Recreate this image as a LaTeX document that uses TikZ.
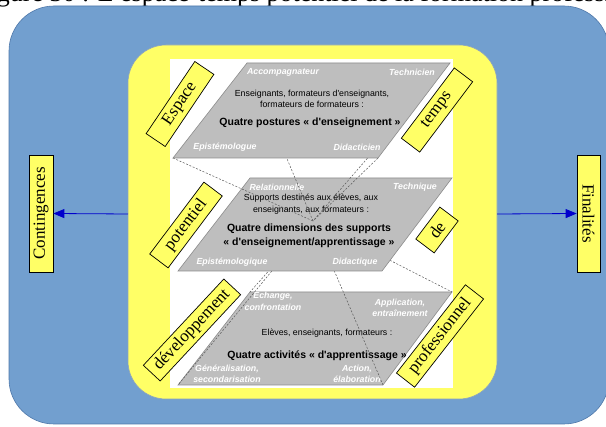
\documentclass[tikz,border=0pt]{standalone}
\usepackage{fontspec}
\setmainfont{Liberation Serif}
\newfontfamily\arialfont{Liberation Sans}
\usetikzlibrary{arrows.meta}
\definecolor{outerblue}{HTML}{729FCF}
\definecolor{outerline}{HTML}{4F78AA}
\definecolor{paleyellow}{HTML}{FFFF66}
\definecolor{yellowedge}{HTML}{8DA3BE}
\definecolor{planegray}{HTML}{BEBEBE}
\definecolor{planeedge}{HTML}{8C8C8C}
\definecolor{arrowblue}{HTML}{0000CC}

\begin{document}
\begin{tikzpicture}[x=1pt,y=-1pt,
  plane/.style={fill=planegray,draw=planeedge,line width=0.6pt},
  cornertxt/.style={font=\arialfont\bfseries\itshape\fontsize{8.8}{10.5}\selectfont,text=white,align=center,inner sep=0pt},
  plaintxt/.style={font=\arialfont\fontsize{8.8}{11}\selectfont,align=center,inner sep=0pt},
  headtxt/.style={font=\arialfont\bfseries\fontsize{10.5}{14}\selectfont,align=center,inner sep=0pt},
  slantlabel/.style={draw=black,fill=paleyellow,line width=0.7pt,font=\fontsize{17}{17}\selectfont,minimum height=23pt,inner sep=0pt},
  sidelabel/.style={draw=black,fill=paleyellow,line width=0.7pt,font=\fontsize{17}{17}\selectfont,minimum width=117pt,minimum height=24pt,inner sep=0pt},
  projection/.style={draw=black!65,dashed,dash pattern=on 2pt off 1.6pt,line width=0.5pt},
  flow/.style={draw=arrowblue,line width=0.8pt,-{Triangle[length=11pt,width=9pt]}}
]
\useasboundingbox (0,0) rectangle (606,427);

% caption line running along the top edge
\node[anchor=base west,inner sep=0pt,font=\fontsize{26}{26}\selectfont] (caption) at (-25,2)
  {Figure 30 : L'espace-temps potentiel de la formation professionnelle};

% background frames
\draw[fill=outerblue,draw=outerline,line width=0.6pt,rounded corners=45pt] (9,6) rectangle (609,424);
\draw[fill=paleyellow,draw=yellowedge,line width=0.6pt,rounded corners=38pt] (128,45) rectangle (497,399);
\fill[white] (170,59) rectangle (453,388);

% plane corners and the common apex
\coordinate (tbl) at (173,158); \coordinate (tbr) at (378,158);
\coordinate (ttr) at (450,63);  \coordinate (ttl) at (247,63);
\coordinate (mbl) at (178,271); \coordinate (mbr) at (382,271);
\coordinate (mtr) at (452,178); \coordinate (mtl) at (250,178);
\coordinate (bbl) at (178,385); \coordinate (bbr) at (383,385);
\coordinate (btr) at (452,292); \coordinate (btl) at (250,292);
\coordinate (apex) at (313,221);

% lower plane: activities
\draw[plane] (bbl) -- (bbr) -- (btr) -- (btl) -- cycle;
\node[cornertxt,align=center] (ech) at (273,301.5) {Echange,\\[1.5pt]confrontation};
\node[cornertxt,align=center] (app) at (400,308) {Application,\\entraînement};
\node[plaintxt] (elv) at (327,333) {Elèves, enseignants, formateurs :};
\node[headtxt] (act) at (317,356) {Quatre activités « d'apprentissage »};
\node[cornertxt] (gen) at (227,374) {Généralisation,\\secondarisation};
\node[cornertxt] (actn) at (357,374) {Action,\\élaboration};

% projections from the apex down to the lower plane
\draw[projection] (apex) -- (btl);
\draw[projection] (apex) -- (btr);
\draw[projection] (apex) -- (bbl);
\draw[projection] (apex) -- (bbr);

% middle plane: supports
\draw[plane] (mbl) -- (mbr) -- (mtr) -- (mtl) -- cycle;
\node[cornertxt] (rel) at (277,187) {Relationnelle};
\node[cornertxt] (techq) at (415,187) {Technique};
\node[plaintxt,font=\arialfont\fontsize{8.8}{12}\selectfont] (sup) at (311,204) {Supports destinés aux élèves, aux\\enseignants, aux formateurs :};
\node[headtxt] (dim) at (309,236) {Quatre dimensions des supports\\« d'enseignement/apprentissage »};
\node[cornertxt] (epiq) at (232,262) {Epistémologique};
\node[cornertxt] (didq) at (355,262) {Didactique};

% projections from the upper plane to the apex
\draw[projection] (ttl) -- (apex);
\draw[projection] (ttr) -- (apex);
\draw[projection] (tbl) -- (apex);
\draw[projection] (tbr) -- (apex);

% upper plane: postures
\draw[plane] (tbl) -- (tbr) -- (ttr) -- (ttl) -- cycle;
\node[cornertxt] (acc) at (283,72) {Accompagnateur};
\node[cornertxt] (tech) at (412,72) {Technicien};
\node[plaintxt] (ens) at (312,98.5) {Enseignants, formateurs d'enseignants,\\formateurs de formateurs :};
\node[headtxt] (post) at (310,123) {Quatre postures « d'enseignement »};
\node[cornertxt] (epi) at (225,147) {Epistémologue};
\node[cornertxt] (did) at (357,147) {Didacticien};

% slanted words around the planes
\node[slantlabel,minimum width=87pt,rotate=56] (espace) at (180,104) {Espace};
\node[slantlabel,minimum width=88pt,rotate=53] (temps) at (437,110) {temps};
\node[slantlabel,minimum width=90pt,rotate=53] (potentiel) at (186,225) {potentiel};
\node[slantlabel,minimum width=40pt,rotate=53] (de) at (437,230) {de};
\node[slantlabel,minimum width=118pt,rotate=47] (dev) at (192,330) {développement};
\node[slantlabel,minimum width=112pt,rotate=52] (prof) at (440,336) {professionnel};

% side boxes and arrows
\node[sidelabel,rotate=90] (cont) at (41,213.5) {Contingences};
\node[sidelabel,minimum height=23pt,rotate=-90] (fin) at (588.5,213.5) {Finalités};
\coordinate (yl) at (128,214);
\coordinate (yr) at (497,214);
\draw[flow] (yl) -- (cont.south);
\draw[flow] (yr) -- (fin.south);
\end{tikzpicture}
\end{document}
